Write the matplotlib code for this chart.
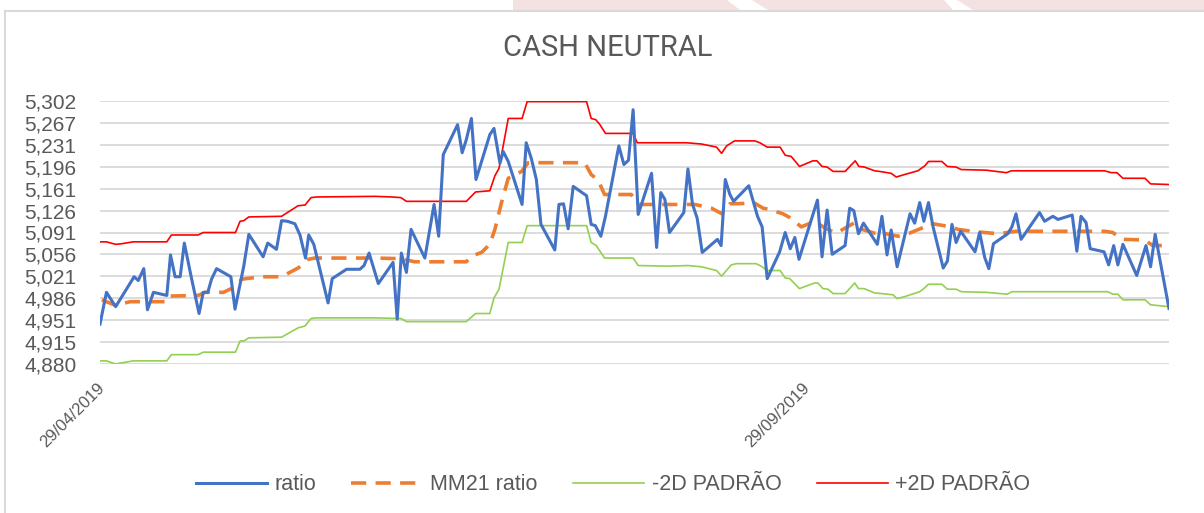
import numpy as np
import pandas as pd
import matplotlib
matplotlib.use("Agg")
import matplotlib.pyplot as plt
import matplotlib.dates as mdates
from matplotlib.patches import Polygon
from matplotlib.lines import Line2D
from matplotlib.transforms import ScaledTranslation

# dias corridos a partir de 29/04/2019
start = pd.Timestamp("2019-04-29")

ratio_day = [0, 1.4, 3.4, 7.4, 8.3, 9.5, 10.3, 11.6, 14.5, 15.3, 16.3, 17.4, 18.3, 19.9,
             21.5, 22.4, 23.4, 24.2, 25.3, 28.4, 29.3, 31.2, 32.3, 35.4, 36.4, 38.3, 39.4,
             40.7, 42.3, 43.4, 44.6, 45.3, 46.4, 49.5, 50.4, 53.5, 56.4, 57.3, 58.4, 60.4,
             63.6, 64.5, 65.4, 66.5, 67.5, 70.5, 72.5, 73.5, 74.5, 77.6, 78.6, 79.5, 80.6,
             81.6, 84.6, 85.5, 86.8, 87.5, 88.6, 91.6, 92.5, 93.6, 94.7, 95.7, 98.7, 99.6,
             100.6, 101.6, 102.7, 105.6, 106.6, 107.5, 108.7, 109.7, 112.6, 113.7, 114.7,
             115.7, 116.8, 119.7, 120.8, 121.7, 122.6, 123.6, 126.7, 127.6, 128.6, 129.6,
             130.7, 134.0, 134.8, 135.7, 136.7, 137.5, 140.8, 142.7, 143.7, 144.8, 147.5,
             148.7, 149.8, 150.8, 151.7, 155.7, 156.7, 157.8, 158.9, 161.7, 162.7, 163.6,
             164.6, 165.7, 168.7, 169.7, 170.8, 171.7, 173.0, 175.8, 176.8, 177.9, 178.8,
             179.8, 180.8, 183.0, 183.9, 184.9, 185.8, 186.8, 189.9, 190.9, 192.0, 192.9,
             193.9, 197.0, 197.9, 198.8, 199.9, 203.9, 205.0, 206.8, 207.9, 211.0, 212.0,
             212.9, 214.0, 214.9, 217.9, 218.9, 220.0, 220.9, 222.0, 225.0, 227.0, 228.0,
             229.0, 232.0]
ratio = [4.944, 4.995, 4.972, 5.020, 5.014, 5.033, 4.967, 4.995, 4.990, 5.055, 5.020, 5.020,
         5.074, 5.016, 4.961, 4.995, 4.995, 5.016, 5.033, 5.020, 4.968, 5.037, 5.088, 5.052,
         5.074, 5.064, 5.110, 5.109, 5.105, 5.087, 5.050, 5.087, 5.072, 4.978, 5.017, 5.032,
         5.032, 5.038, 5.058, 5.009, 5.043, 4.952, 5.058, 5.027, 5.096, 5.050, 5.136, 5.085,
         5.216, 5.264, 5.219, 5.240, 5.274, 5.176, 5.248, 5.258, 5.202, 5.221, 5.205, 5.136,
         5.235, 5.210, 5.176, 5.104, 5.063, 5.136, 5.137, 5.097, 5.165, 5.150, 5.104, 5.102,
         5.085, 5.117, 5.230, 5.200, 5.207, 5.288, 5.120, 5.186, 5.067, 5.155, 5.144, 5.091,
         5.123, 5.193, 5.136, 5.114, 5.059, 5.080, 5.070, 5.176, 5.152, 5.141, 5.166, 5.117,
         5.100, 5.017, 5.060, 5.091, 5.065, 5.083, 5.048, 5.143, 5.052, 5.127, 5.056, 5.070,
         5.130, 5.126, 5.089, 5.106, 5.072, 5.117, 5.055, 5.095, 5.036, 5.121, 5.106, 5.139,
         5.109, 5.139, 5.100, 5.034, 5.045, 5.104, 5.075, 5.093, 5.060, 5.091, 5.051, 5.033,
         5.073, 5.089, 5.100, 5.121, 5.080, 5.123, 5.109, 5.117, 5.112, 5.119, 5.061, 5.117,
         5.107, 5.065, 5.060, 5.039, 5.070, 5.039, 5.072, 5.022, 5.070, 5.036, 5.088, 4.969]

mm21_day = [0.4, 3.4, 6.5, 14.5, 15.2, 21.3, 22.8, 26.8, 29.6, 30.7, 35.0, 39.4, 43.0, 45.2,
            46.6, 59.7, 65.4, 68.3, 79.5, 80.6, 82.8, 84.6, 85.7, 87.1, 88.6, 91.5, 92.9,
            105.2, 106.6, 108.1, 109.5, 115.3, 116.8, 129.1, 132.7, 135.0, 136.7, 142.1,
            143.9, 145.3, 148.2, 149.7, 152.2, 155.1, 157.6, 159.8, 163.6, 164.9, 168.1,
            170.6, 173.2, 175.7, 179.0, 180.0, 184.7, 186.2, 189.1, 194.9, 198.8, 218.0,
            219.8, 220.9, 222.0, 226.7, 228.5, 232.0]
mm21 = [4.983, 4.974, 4.980, 4.980, 4.989, 4.990, 4.995, 4.995, 5.005, 5.016, 5.020, 5.020,
        5.034, 5.048, 5.050, 5.050, 5.049, 5.044, 5.044, 5.053, 5.059, 5.072, 5.096, 5.138,
        5.178, 5.189, 5.203, 5.203, 5.184, 5.175, 5.152, 5.152, 5.136, 5.136, 5.130, 5.121,
        5.137, 5.138, 5.130, 5.128, 5.121, 5.115, 5.100, 5.109, 5.097, 5.090, 5.106, 5.097,
        5.090, 5.089, 5.085, 5.090, 5.100, 5.106, 5.100, 5.096, 5.093, 5.089, 5.093, 5.093,
        5.091, 5.085, 5.080, 5.079, 5.070, 5.070]

low_day = [0, 1.4, 3.4, 7.2, 14.5, 15.5, 21.3, 22.4, 29.4, 30.4, 31.2, 32.3, 39.4, 43.0, 44.5,
           45.8, 47.0, 59.7, 65.3, 66.5, 79.5, 81.5, 84.6, 85.5, 86.6, 88.6, 91.6, 92.7, 105.6,
           106.6, 107.7, 109.5, 115.7, 116.8, 123.3, 127.6, 130.5, 133.8, 134.9, 137.0, 138.1,
           142.4, 143.5, 144.8, 147.6, 148.7, 149.7, 150.6, 151.8, 155.1, 155.8, 156.9, 158.0,
           159.1, 161.7, 163.8, 164.6, 165.8, 168.1, 169.6, 172.1, 173.0, 174.6, 177.9, 178.8,
           179.8, 182.7, 183.9, 185.8, 186.9, 192.3, 196.9, 197.9, 218.7, 219.8, 220.9, 222.0,
           226.8, 228.0, 232.0]
low = [4.885, 4.885, 4.880, 4.885, 4.885, 4.895, 4.895, 4.899, 4.899, 4.917, 4.917, 4.922,
       4.923, 4.938, 4.941, 4.953, 4.954, 4.954, 4.953, 4.948, 4.948, 4.961, 4.961, 4.986,
       5.000, 5.075, 5.075, 5.102, 5.102, 5.075, 5.070, 5.050, 5.050, 5.038, 5.037, 5.038,
       5.036, 5.030, 5.021, 5.039, 5.041, 5.041, 5.037, 5.030, 5.030, 5.018, 5.017, 5.010,
       5.001, 5.010, 5.010, 5.001, 5.000, 4.993, 4.993, 5.010, 5.001, 5.001, 4.994, 4.993,
       4.991, 4.985, 4.988, 4.996, 5.001, 5.008, 5.008, 5.000, 5.000, 4.996, 4.995, 4.992,
       4.996, 4.996, 4.992, 4.992, 4.983, 4.983, 4.975, 4.972]

high_day = [0, 1.4, 3.4, 4.7, 7.2, 14.5, 15.5, 21.3, 22.4, 29.4, 30.4, 31.2, 32.3, 39.4, 43.0,
            44.5, 45.8, 47.0, 59.7, 63.3, 65.3, 66.5, 79.5, 81.5, 84.6, 85.7, 86.6, 88.6, 91.6,
            92.7, 105.6, 106.6, 107.6, 108.5, 109.7, 115.7, 116.6, 127.3, 130.5, 133.8, 134.9,
            136.0, 137.7, 142.1, 143.2, 144.8, 147.6, 148.7, 150.0, 150.8, 151.8, 154.7, 155.6,
            156.7, 157.8, 159.1, 161.7, 163.9, 164.7, 165.9, 168.1, 169.2, 171.7, 172.8, 174.6,
            177.5, 179.0, 179.8, 182.7, 183.9, 185.8, 186.9, 192.3, 196.7, 197.8, 218.0, 219.5,
            220.7, 222.0, 226.8, 228.0, 232.0]
high = [5.076, 5.076, 5.072, 5.073, 5.076, 5.076, 5.087, 5.087, 5.091, 5.091, 5.109, 5.110,
        5.116, 5.117, 5.134, 5.135, 5.147, 5.148, 5.149, 5.148, 5.147, 5.141, 5.141, 5.156,
        5.158, 5.182, 5.194, 5.274, 5.274, 5.301, 5.301, 5.274, 5.272, 5.264, 5.250, 5.250,
        5.235, 5.235, 5.233, 5.228, 5.218, 5.230, 5.238, 5.238, 5.235, 5.228, 5.228, 5.215,
        5.213, 5.206, 5.197, 5.206, 5.206, 5.197, 5.196, 5.189, 5.189, 5.206, 5.197, 5.196,
        5.190, 5.189, 5.186, 5.180, 5.184, 5.190, 5.198, 5.205, 5.205, 5.197, 5.196, 5.192,
        5.191, 5.187, 5.190, 5.190, 5.187, 5.187, 5.178, 5.178, 5.169, 5.168]

ytick_labels = ["4,880", "4,915", "4,951", "4,986", "5,021", "5,056", "5,091",
                "5,126", "5,161", "5,196", "5,231", "5,267", "5,302"]
xtick_dates = ["2019-04-29", "2019-09-29"]
legend_labels = ["ratio", "MM21 ratio", "-2D PADRÃO", "+2D PADRÃO"]


def to_dates(days):
    return start + pd.to_timedelta(days, unit="D")


plt.rcParams["font.family"] = ["Liberation Sans", "DejaVu Sans"]
gray = "#595959"

fig = plt.figure(figsize=(12.04, 5.13), dpi=100)
W, H = 1204, 513

# faixa rosa do fundo (marca d'agua) e moldura
fig.add_artist(Polygon([(513 / W, 1), (1, 1), (1, 1 - 10 / H), (513 / W, 1 - 10 / H)],
                       closed=True, transform=fig.transFigure, facecolor="#f4e1e1",
                       edgecolor="none"))
for xs in [(727, 752, 768, 740), (944, 957, 973, 953)]:
    fig.add_artist(Polygon([(xs[0] / W, 1), (xs[1] / W, 1), (xs[2] / W, 1 - 10 / H),
                            (xs[3] / W, 1 - 10 / H)], closed=True,
                           transform=fig.transFigure, facecolor="white", edgecolor="none"))
fig.add_artist(Line2D([5 / W, 1], [1 - 11 / H, 1 - 11 / H], transform=fig.transFigure,
                      color="#d9d9d9", lw=1.5))
fig.add_artist(Line2D([5 / W, 5 / W], [0, 1 - 11 / H], transform=fig.transFigure,
                      color="#d9d9d9", lw=1.5))

ax = fig.add_axes([100 / W, 1 - 364 / H, (1169 - 100) / W, (364 - 101) / H])

ax.plot(to_dates(ratio_day), ratio, color="#4472c4", lw=2.2, label=legend_labels[0], zorder=4)
ax.plot(to_dates(mm21_day), mm21, color="#ed7d31", lw=2.6, dashes=(4.2, 2.6),
        label=legend_labels[1], zorder=3)
ax.plot(to_dates(low_day), low, color="#92d050", lw=1.2, label=legend_labels[2], zorder=2)
ax.plot(to_dates(high_day), high, color="#ff0000", lw=1.2, label=legend_labels[3], zorder=2)

ymin, ymax = 4.880, 5.302
ax.set_ylim(ymin, ymax)
ax.set_yticks(np.linspace(ymin, ymax, len(ytick_labels)))
ax.set_yticklabels(ytick_labels)
ax.set_xlim(start, start + pd.Timedelta(days=232))
ax.set_xticks(pd.to_datetime(xtick_dates))
ax.xaxis.set_major_formatter(mdates.DateFormatter("%d/%m/%Y"))

ax.grid(axis="y", color="#d9d9d9", lw=1.3)
ax.set_axisbelow(True)
for s in ax.spines.values():
    s.set_visible(False)
ax.tick_params(axis="y", length=0, pad=17, labelsize=15, labelcolor=gray)
ax.tick_params(axis="x", length=0, pad=12, labelsize=12, labelcolor=gray)
for lbl in ax.get_xticklabels():
    lbl.set_rotation(45)
    lbl.set_ha("right")
    lbl.set_va("top")
    lbl.set_rotation_mode("anchor")
    lbl.set_transform(lbl.get_transform() + ScaledTranslation(-0.03, 0, fig.dpi_scale_trans))

fig.text(608 / W, 1 - 48 / H, "CASH NEUTRAL", ha="center", va="center", fontsize=21,
         color=gray, family=["Roboto", "Liberation Sans", "DejaVu Sans"])

leg = fig.legend(loc="center", bbox_to_anchor=(613 / W, 1 - 485 / H), ncol=4,
                 frameon=False, fontsize=15.5, handlelength=3.3, handletextpad=0.35,
                 columnspacing=1.65)
for t in leg.get_texts():
    t.set_color(gray)

fig.savefig("out.png", dpi=100, facecolor="white")
